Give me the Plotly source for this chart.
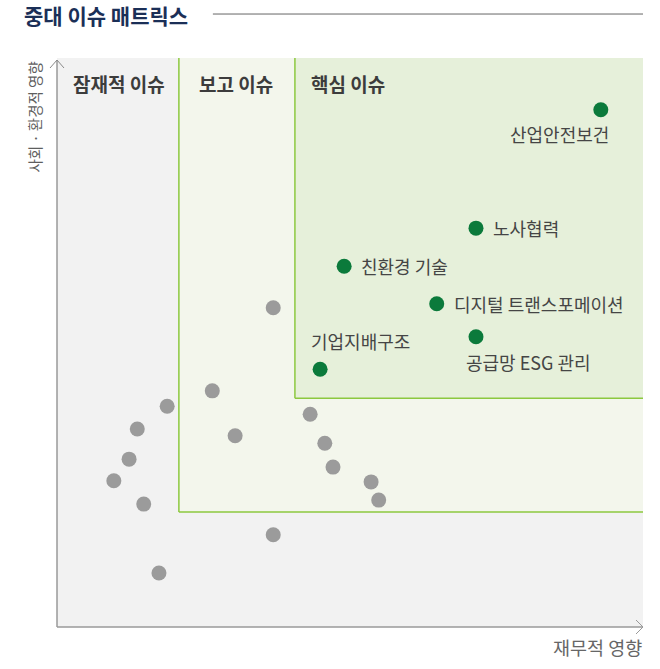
import plotly.graph_objects as go

# ---------------- data ----------------
# Material issues (핵심 이슈) – financial impact (x) / social·environmental impact (y)
key_issues = ["산업안전보건", "노사협력", "친환경 기술", "디지털 트랜스포메이션", "공급망 ESG 관리", "기업지배구조"]
key_x = [9.28, 7.15, 4.90, 6.48, 7.15, 4.49]
key_y = [9.09, 7.01, 6.34, 5.68, 5.10, 4.53]

# Other (unlabelled) issues
other_x = [3.69, 2.65, 1.88, 1.37, 3.04, 4.32, 4.57, 4.71, 1.23, 0.97, 1.48, 5.36, 5.49, 3.69, 1.74]
other_y = [5.61, 4.15, 3.88, 3.48, 3.36, 3.74, 3.23, 2.81, 2.95, 2.57, 2.16, 2.55, 2.23, 1.62, 0.95]

# Zone thresholds (x, y) and names
zone_names = ["잠재적 이슈", "보고 이슈", "핵심 이슈"]
zone_x0 = [0.0, 2.08, 4.06]
zone_y0 = [0.0, 2.02, 4.02]
AXIS_MAX = 10.0

title_text = "중대 이슈 매트릭스"
x_title = "재무적 영향"
y_title = "사회 · 환경적 영향"

# ---------------- style ----------------
FONT = "Noto Sans CJK KR, Noto Sans, sans-serif"
GREEN = "#0b7a3b"
GRAY = "#9b9b9b"
ZONE_FILLS = ["#f2f2f2", "#f3f6ec", "#e6f0da"]
ZONE_LINE = "#8cc83f"
AXIS_COLOR = "#9a9a9a"
zone_label_shift = [14, 18, 14]

# label placement: (xanchor, xshift, yshift)
label_place = {
    "산업안전보건": ("right", 10, -24),
    "노사협력": ("left", 15, 0),
    "친환경 기술": ("left", 15, 0),
    "디지털 트랜스포메이션": ("left", 15, 0),
    "공급망 ESG 관리": ("left", -12, -25),
    "기업지배구조": ("left", -11, 28),
}

fig = go.Figure()

fig.add_trace(go.Scatter(
    x=other_x, y=other_y, mode="markers",
    marker=dict(size=15, color=GRAY, line=dict(width=0)),
    hoverinfo="skip", showlegend=False,
))
fig.add_trace(go.Scatter(
    x=key_x, y=key_y, mode="markers",
    marker=dict(size=15, color=GREEN, line=dict(width=0)),
    text=key_issues, hoverinfo="text", showlegend=False,
))

shapes = []
for i, (x0, y0) in enumerate(zip(zone_x0, zone_y0)):
    shapes.append(dict(type="rect", xref="x", yref="y", x0=x0, y0=y0, x1=AXIS_MAX, y1=AXIS_MAX,
                       fillcolor=ZONE_FILLS[i], line=dict(width=0), layer="below"))
for i, (x0, y0) in enumerate(zip(zone_x0, zone_y0)):
    if i == 0:
        continue
    shapes.append(dict(type="line", xref="x", yref="y", x0=x0, y0=y0, x1=x0, y1=AXIS_MAX,
                       line=dict(color=ZONE_LINE, width=1.5), layer="below"))
    shapes.append(dict(type="line", xref="x", yref="y", x0=x0, y0=y0, x1=AXIS_MAX, y1=y0,
                       line=dict(color=ZONE_LINE, width=1.5), layer="below"))

# axes (paper-referenced so they are not clipped by the plot area)
PW, PH = 586.0, 569.0  # plot area size in px
shapes.append(dict(type="line", xref="paper", yref="paper", x0=0, y0=0, x1=0, y1=1 - 2 / PH,
                   line=dict(color="#8a8a8a", width=1.3)))
shapes.append(dict(type="line", xref="paper", yref="paper", x0=0, y0=0, x1=1, y1=0,
                   line=dict(color=AXIS_COLOR, width=1.5)))
# arrow heads (open chevrons)
adx, ady = 7 / PW, 8 / PH
shapes.append(dict(type="path", xref="paper", yref="paper",
                   path=f"M {-adx} {1 - 2 / PH - ady} L 0 {1 - 2 / PH} L {adx} {1 - 2 / PH - ady}",
                   line=dict(color="#8a8a8a", width=1)))
adx2, ady2 = 7 / PW, 7 / PH
shapes.append(dict(type="path", xref="paper", yref="paper",
                   path=f"M {1 - adx2} {ady2} L 1 0 L {1 - adx2} {-ady2}",
                   line=dict(color=AXIS_COLOR, width=1)))
# title rule
shapes.append(dict(type="line", xref="paper", yref="paper", x0=0.266, x1=1.0, y0=1.0773, y1=1.0773,
                   line=dict(color="#666666", width=1)))

annotations = []
for i, name in enumerate(zone_names):
    annotations.append(dict(x=zone_x0[i], y=AXIS_MAX, xref="x", yref="y", text=f"<b>{name}</b>",
                            showarrow=False, xanchor="left", yanchor="middle",
                            xshift=zone_label_shift[i], yshift=-25,
                            font=dict(family=FONT, size=19, color="#3c3c3c")))
for name, x, y in zip(key_issues, key_x, key_y):
    xa, xs, ys = label_place[name]
    annotations.append(dict(x=x, y=y, xref="x", yref="y", text=name, showarrow=False,
                            xanchor=xa, yanchor="middle", xshift=xs, yshift=ys,
                            font=dict(family=FONT, size=18, color="#454545")))
annotations.append(dict(x=0, y=1, xref="paper", yref="paper", text=y_title, textangle=-90,
                        showarrow=False, xanchor="center", yanchor="top", xshift=-23, yshift=-2,
                        font=dict(family=FONT, size=14.5, color="#5e5e5e")))
annotations.append(dict(x=1, y=0, xref="paper", yref="paper", text=x_title,
                        showarrow=False, xanchor="right", yanchor="middle", xshift=1, yshift=-20,
                        font=dict(family=FONT, size=18.5, color="#666666")))

fig.update_layout(
    width=660, height=669,
    margin=dict(l=57, r=17, t=58, b=42),
    paper_bgcolor="white", plot_bgcolor="white",
    title=dict(text=f"<b>{title_text}</b>", x=24 / 660, xanchor="left", y=1 - 17 / 669, yanchor="middle",
               font=dict(family=FONT, size=21, color="#1b2f57")),
    xaxis=dict(range=[0, AXIS_MAX], visible=False, fixedrange=True),
    yaxis=dict(range=[0, AXIS_MAX], visible=False, fixedrange=True),
    shapes=shapes, annotations=annotations,
    showlegend=False,
)

fig.write_html("out.html", config={"displayModeBar": False},
               post_script="document.body.style.margin='0';")
